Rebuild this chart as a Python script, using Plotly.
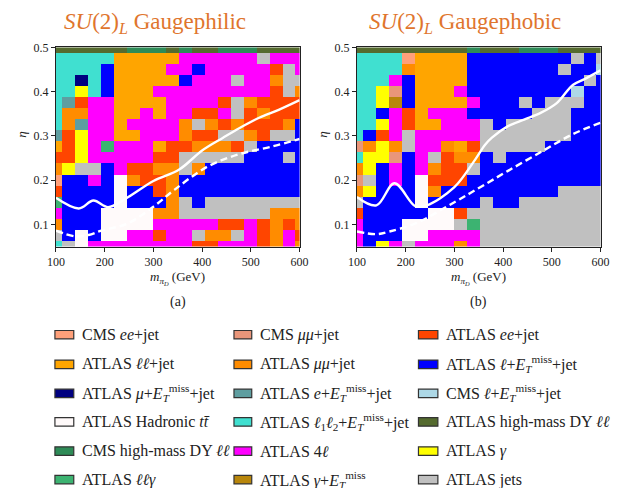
import plotly.graph_objects as go

# ---- categories (legend order, row-major over three columns) ----
codes = list("abcdefghijklmnopqr")
labels = [
    "CMS <i>ee</i>+jet",
    "CMS <i>μμ</i>+jet",
    "ATLAS <i>ee</i>+jet",
    "ATLAS <i>ℓℓ</i>+jet",
    "ATLAS <i>μμ</i>+jet",
    "ATLAS <i>ℓ</i>+<i>E</i><sub><i>T</i></sub><sup>miss</sup>+jet",
    "ATLAS <i>μ</i>+<i>E</i><sub><i>T</i></sub><sup>miss</sup>+jet",
    "ATLAS <i>e</i>+<i>E</i><sub><i>T</i></sub><sup>miss</sup>+jet",
    "CMS <i>ℓ</i>+<i>E</i><sub><i>T</i></sub><sup>miss</sup>+jet",
    "ATLAS Hadronic <i>tt\u0304</i>",
    "ATLAS <i>ℓ</i><sub>1</sub><i>ℓ</i><sub>2</sub>+<i>E</i><sub><i>T</i></sub><sup>miss</sup>+jet",
    "ATLAS high-mass DY <i>ℓℓ</i>",
    "CMS high-mass DY <i>ℓℓ</i>",
    "ATLAS 4<i>ℓ</i>",
    "ATLAS <i>γ</i>",
    "ATLAS <i>ℓℓγ</i>",
    "ATLAS <i>γ</i>+<i>E</i><sub><i>T</i></sub><sup>miss</sup>",
    "ATLAS jets",
]
colors = [
    "#FFA07A", "#E9967A", "#FF4500", "#FFA500", "#FF8C00", "#0000FF",
    "#000080", "#5F9EA0", "#ADD8E6", "#FFFAFA", "#40E0D0", "#556B2F",
    "#2E8B57", "#FF00FF", "#FFFF00", "#3CB371", "#B8860B", "#C0C0C0",
]

# ---- scan grid ----
m_grid = [100, 126.6, 153.2, 179.8, 206.4, 233.0, 259.6, 286.2, 312.8, 339.4,
          366.0, 392.6, 419.2, 445.8, 472.4, 499.0, 525.6, 552.2, 578.8, 605.4]
eta_grid = [0.500, 0.475, 0.450, 0.425, 0.400, 0.375, 0.350, 0.325, 0.300, 0.275,
            0.250, 0.225, 0.200, 0.175, 0.150, 0.125, 0.100, 0.075, 0.050]

# most sensitive analysis per (eta, m) cell, rows from eta = 0.5 down to 0.05
philic_rows = [
    "llllllmmmlmllmmmllll",
    "kkkkkdddddnnnnnnrnnn",
    "kkkkfddddnnfnnnnncrn",
    "kkgkfdddddfnnnrnnerr",
    "kkokfdddnnnnnnnnncre",
    "khcnnddddnnnncrecccc",
    "keennddndnnccnrceccc",
    "kehnndnnnnerececccef",
    "hconnddnnneccrrecrrf",
    "dconpnnndcceeecrffff",
    "cconnnnnccrrrrrfffrf",
    "eorrfnccee" "reffffffff",
    "affnfjecce" "ffffffffff",
    "cffffjffce" "ffffffffff",
    "pffffjfffe" "rfrrrrrrrr",
    "nfffjjjjee" "rrrrrrreee",
    "efffjjjjnn" "nnnccncece",
    "rfjfjjnncn" "nreerncenc",
    "krjnnnnnnn" "nccnnncene",
]
phobic_rows = [
    "lllllllllmlllmmmllll",
    "kkkkadddd" "ffffffffrfr",
    "kkkkedddd" "fffffffrffi",
    "kkknfdddd" "fffffffffrf",
    "kkobfdddn" "ffffffffiff",
    "kkoqfdddd" "nfffrfrrrff",
    "kkfncdnnn" "fffffrrrfff",
    "kkoncddnn" "nrfrrrrrfff",
    "kfcnrnnnn" "nrrrrrrrfff",
    "beoernned" "crrrrrfffff",
    "koobfnrce" "efrffffffff",
    "eofnfnecc" "rffffffffff",
    "brfnfjccc" "fffffffffff",
    "eofffjeff" "fffffffrrrr",
    "rffffjfff" "frffrrrrrrr",
    "cfffffjjc" "rrrrrrrrrrr",
    "nfffjjjjr" "prrrrrrrrrr",
    "nfffjjnnn" "nrrrrrrrrrr",
    "nfonrnnne" "nrrrrrrrrrr",
]

# ---- exclusion contours ----
philic_solid_m = [100, 147, 177, 207, 243, 300, 353, 400, 443, 477, 517, 557, 600]
philic_solid_eta = [0.160, 0.136, 0.154, 0.139, 0.158, 0.198, 0.224, 0.267, 0.296, 0.318, 0.341, 0.359, 0.381]
philic_dash_m = [100, 140, 167, 193, 247, 300, 343, 410, 477, 543, 600]
philic_dash_eta = [0.086, 0.073, 0.076, 0.086, 0.102, 0.140, 0.178, 0.230, 0.259, 0.276, 0.293]

phobic_solid_m = [100, 140, 177, 220, 243, 300, 343, 363, 377, 410, 443, 477, 510, 543, 570, 600]
phobic_solid_eta = [0.162, 0.143, 0.193, 0.141, 0.143, 0.184, 0.247, 0.280, 0.296, 0.322, 0.337, 0.352, 0.374, 0.415, 0.430, 0.448]
phobic_dash_m = [100, 140, 167, 220, 300, 353, 410, 483, 543, 600]
phobic_dash_eta = [0.084, 0.078, 0.084, 0.102, 0.150, 0.184, 0.221, 0.267, 0.304, 0.330]

W, H = 620, 488
SERIF = "Liberation Serif, Times New Roman, serif"


def fx(x):
    return x / W


def fy(y):
    return 1 - y / H


def to_z(rows):
    return [[codes.index(ch) for ch in row] for row in rows]


n = len(codes)
cscale = []
for i, c in enumerate(colors):
    cscale.append([i / n, c])
    cscale.append([(i + 1) / n, c])

fig = go.Figure()
panels = [
    ("x", "y", philic_rows, philic_solid_m, philic_solid_eta, philic_dash_m, philic_dash_eta),
    ("x2", "y2", phobic_rows, phobic_solid_m, phobic_solid_eta, phobic_dash_m, phobic_dash_eta),
]
for xa, ya, rows, sm, se, dm, de in panels:
    fig.add_trace(go.Heatmap(
        x=m_grid, y=eta_grid, z=to_z(rows), zmin=-0.5, zmax=n - 0.5,
        colorscale=cscale, showscale=False, xaxis=xa, yaxis=ya, hoverinfo="skip",
    ))
    fig.add_trace(go.Scatter(
        x=sm, y=se, mode="lines", line=dict(color="white", width=2.4, shape="spline"),
        xaxis=xa, yaxis=ya, showlegend=False, hoverinfo="skip",
    ))
    fig.add_trace(go.Scatter(
        x=dm, y=de, mode="lines", line=dict(color="white", width=2.4, dash="7px,4px", shape="spline"),
        xaxis=xa, yaxis=ya, showlegend=False, hoverinfo="skip",
    ))

axis_common = dict(showline=True, linecolor="#222", linewidth=1.2, mirror=True, ticks="outside",
                   ticklen=4, tickcolor="#222", showgrid=False, zeroline=False,
                   tickfont=dict(family=SERIF, size=12, color="#222"))
ydom = [fy(243), fy(41)]
fig.update_layout(
    width=W, height=H, margin=dict(l=0, r=0, t=0, b=0),
    paper_bgcolor="white", plot_bgcolor="white", showlegend=False,
    xaxis=dict(domain=[fx(48.3), fx(299.3)], range=[100, 600], tickvals=[100, 200, 300, 400, 500, 600], anchor="y", **axis_common),
    yaxis=dict(domain=ydom, range=[0.05, 0.5], tickvals=[0.1, 0.2, 0.3, 0.4, 0.5], anchor="x", **axis_common),
    xaxis2=dict(domain=[fx(358.3), fx(609.3)], range=[100, 600], tickvals=[100, 200, 300, 400, 500, 600], anchor="y2", **axis_common),
    yaxis2=dict(domain=ydom, range=[0.05, 0.5], tickvals=[0.1, 0.2, 0.3, 0.4, 0.5], anchor="x2", **axis_common),
)


def note(x, y, text, size, color="#222", xanchor="center", angle=0, family=SERIF):
    return dict(x=fx(x), y=fy(y), xref="paper", yref="paper", showarrow=False,
                xanchor=xanchor, yanchor="middle", text=text, textangle=angle,
                font=dict(family=family, size=size, color=color))


ann = []
title_color = "#E0752D"
for cx, name in [(150, "Gaugephilic"), (470, "Gaugephobic")]:
    ann.append(note(cx, 16, f"<i>SU</i>(2)<sub><i>L</i></sub> {name}", 23, title_color))
for cx, tag, ex in [(173.8, "(a)", 12), (483.8, "(b)", 322)]:
    ann.append(note(cx, 275, "<i>m</i><sub><i>π</i><sub><i>D</i></sub></sub> (GeV)", 13))
    ann.append(note(cx, 299, tag, 14))
    ann.append(note(ex, 130, "<i>η</i>", 13, angle=-90))

# legend: three columns, six rows
shapes = []
col_x = [(47.3, 66.7, 72.7), (231.7, 250.0, 256.0), (421.7, 441.7, 448.3)]
row_y = [332.5, 362.5, 392.0, 421.0, 450.5, 479.5]
for i, (lab, col) in enumerate(zip(labels, colors)):
    r, c = divmod(i, 3)
    x0, x1, tx = col_x[c]
    yc = row_y[r]
    shapes.append(dict(type="rect", xref="paper", yref="paper",
                       x0=fx(x0), x1=fx(x1), y0=fy(yc + 4.3), y1=fy(yc - 4.3),
                       fillcolor=col, line=dict(color="#333", width=1.2)))
    ann.append(note(tx, yc, lab, 16, xanchor="left"))

fig.update_layout(annotations=ann, shapes=shapes)
fig.write_html("out.html")
